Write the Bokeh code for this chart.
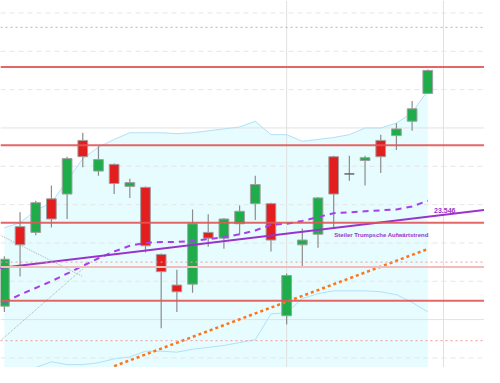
from bokeh.plotting import figure
from bokeh.models import Range1d, Span, Slope
from bokeh.core.properties import value
from bokeh.embed import file_html
from bokeh.resources import INLINE

# ---- data (index of trading day, prices) ----
idx = list(range(28))
opens  = [23070, 23485, 23455, 23630, 23655, 23935, 23775, 23810, 23695, 23690,
          23340, 23180, 23185, 23455, 23425, 23500, 23605, 23605, 23020, 23390,
          23445, 23850, 23760, 23830, 23935, 23960, 24035, 24180]
highs  = [23330, 23560, 23620, 23700, 23850, 23975, 23905, 23815, 23735, 23695,
          23345, 23260, 23575, 23550, 23530, 23595, 23750, 23610, 23240, 23475,
          23640, 23855, 23855, 23855, 23965, 24025, 24140, 24305]
lows   = [23040, 23225, 23440, 23480, 23525, 23795, 23750, 23655, 23635, 23350,
          22955, 23040, 23140, 23380, 23370, 23440, 23520, 23355, 22975, 23280,
          23375, 23480, 23725, 23700, 23765, 23885, 23985, 24180]
closes = [23315, 23390, 23610, 23525, 23840, 23850, 23835, 23710, 23715, 23385,
          23250, 23145, 23500, 23425, 23525, 23565, 23705, 23415, 23230, 23415,
          23635, 23655, 23760, 23845, 23850, 23995, 24100, 24300]
moving_avg = [23090, 23130, 23165, 23200, 23240, 23280, 23320, 23355, 23385, 23400,
              23405, 23405, 23410, 23420, 23430, 23445, 23465, 23495, 23500, 23515,
              23535, 23555, 23560, 23565, 23570, 23575, 23590, 23620]
boll_upper = [23480, 23505, 23570, 23610, 23725, 23840, 23900, 23940, 23975, 23975,
              23975, 23970, 23975, 23985, 23995, 24005, 24035, 23965, 23965, 23930,
              23940, 23950, 23965, 24000, 24000, 24025, 24080, 24195]
boll_lower = [22675, 22705, 22750, 22780, 22765, 22765, 22775, 22795, 22805, 22835,
              22835, 22830, 22845, 22855, 22865, 22880, 22895, 23030, 23035, 23110,
              23135, 23150, 23150, 23150, 23145, 23130, 23090, 23040]

red_levels = [24318, 23910, 23505, 23098]
dotted_levels = [24525, 23300, 22890]
pale_levels = [23275]
grid_levels = [22800, 23000, 23200, 23400, 23600, 23800, 24000, 24200, 24400, 24600]
major_levels = [23000, 24000]
vgrid_days = [18, 28]

trend_x = [0, 28]
trend_y = [23272, 23546]
trend_label = "23.546"
trend_title = "Steiler Trumpsche Aufwärtstrend"
orange_x = [7, 27]
orange_y = [22757, 23368]
diag_a_x = [-0.25, 5.0]
diag_a_y = [23440, 23225]
diag_b_x = [-0.25, 5.0]
diag_b_y = [22890, 23265]

Y_MIN, Y_MAX = 22750, 24665

p = figure(width=484, height=367, output_backend="svg", toolbar_location=None,
           x_range=Range1d(-0.247, 30.617), y_range=Range1d(Y_MIN, Y_MAX),
           min_border=0, background_fill_color="white")
p.axis.visible = False
p.grid.visible = False
p.outline_line_color = None

# bollinger fill
p.varea(x=idx, y1=[Y_MIN] * len(idx), y2=boll_upper, fill_color="#e6fcfe", level="underlay")

# grid
for g in grid_levels:
    if g in major_levels:
        p.add_layout(Span(location=g, dimension="width", line_color="#e2e2e2",
                          line_width=1, level="underlay"))
    else:
        p.add_layout(Span(location=g, dimension="width", line_color="#e6e6e6",
                          line_width=1, line_dash="5 4", level="underlay"))
for v in vgrid_days:
    p.add_layout(Span(location=v, dimension="height", line_color="#e0e0e0",
                      line_width=1, level="underlay"))

# bands
p.line(idx, boll_upper, line_color="#b2e0f8", line_width=1)
p.line(idx, boll_lower, line_color="#b2e0f8", line_width=1)

# thin gray lines
p.line(diag_a_x, diag_a_y, line_color="#b0b0b0", line_width=1, line_dash="1 1")
p.line(diag_b_x, diag_b_y, line_color="#b0b0b0", line_width=1, line_dash="1 1")

# candles
tops = [max(o, c) for o, c in zip(opens, closes)]
bots = [min(o, c) for o, c in zip(opens, closes)]
cols = []
lcols = []
for o, c in zip(opens, closes):
    if c > o:
        cols.append("#1fad4c"); lcols.append("#a0a0a0")
    elif c < o:
        cols.append("#e21e1e"); lcols.append("#a0a0a0")
    else:
        cols.append("#666666"); lcols.append("#666666")
p.segment(x0=idx, y0=lows, x1=idx, y1=highs, line_color="#8c8c8c", line_width=1.2)
p.vbar(x=idx, width=0.62, top=tops, bottom=bots, fill_color=cols, line_color=lcols, line_width=1)

# moving average and trend lines
p.line(idx, moving_avg, line_color="#a83ef0", line_width=2, line_dash="6 5")
grad = (trend_y[1] - trend_y[0]) / (trend_x[1] - trend_x[0])
p.add_layout(Slope(gradient=grad, y_intercept=trend_y[0] - grad * trend_x[0],
                   line_color="#9933cc", line_width=2, level="glyph"))
p.line(orange_x, orange_y, line_color="#ff7418", line_width=2.5, line_dash="3 3")

# horizontal levels
for lv in red_levels:
    p.add_layout(Span(location=lv, dimension="width", line_color="#e25555",
                      line_width=2, line_alpha=0.9))
for lv in dotted_levels:
    p.add_layout(Span(location=lv, dimension="width", line_color="#f29a9a",
                      line_width=1, line_dash="2 3"))
for lv in pale_levels:
    p.add_layout(Span(location=lv, dimension="width", line_color="#f2bcbc",
                      line_width=2))

# labels
p.text(x=[27.4], y=[23555], text=[trend_label], text_align="left", text_baseline="bottom",
       text_font=value("Liberation Sans"), text_font_size="7px", text_font_style="bold",
       text_color="#9933cc")
p.text(x=[27.05], y=[23428], text=[trend_title], text_align="right", text_baseline="bottom",
       text_font=value("Liberation Sans"), text_font_size="6px", text_font_style="bold",
       text_color="#9933cc")

open("out.html", "w").write(file_html(p, INLINE))
